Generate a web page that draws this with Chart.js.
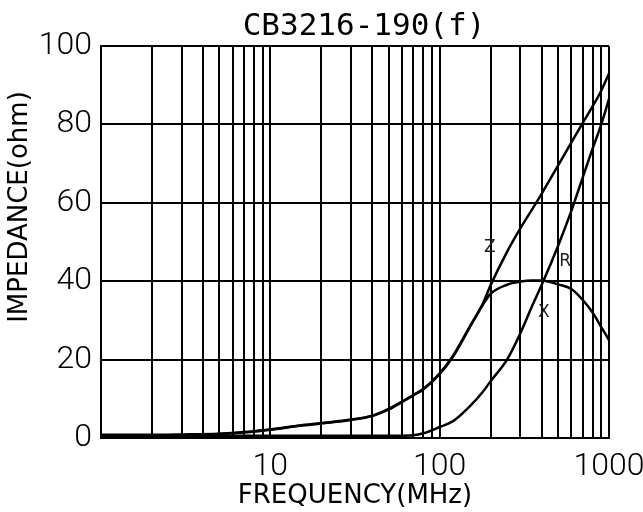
<!DOCTYPE html>
<html>
<head>
<meta charset="utf-8">
<script src="https://cdn.jsdelivr.net/npm/chart.js@4/dist/chart.umd.min.js"></script>
<style>
  html, body { margin: 0; padding: 0; background: #fff; }
  #wrap { width: 643px; height: 512px; }
</style>
</head>
<body>
<div id="wrap"><canvas id="grafico"></canvas></div>
<script>
const titulo = 'CB3216-190(f)'
const tituloX = 'FREQUENCY(MHz)'
const tituloY = 'IMPEDANCE(ohm)'

// frecuencia en MHz, impedancia en ohm
const frecuencias = [1, 2, 3, 5, 7, 10, 15, 20, 30, 40, 50, 60, 70, 80, 100, 120, 150, 180, 200, 250, 300, 350, 400, 500, 600, 700, 800, 900, 1000]
const valoresZ = [0.8, 0.8, 0.9, 1.1, 1.5, 2.2, 3.2, 3.8, 4.7, 5.7, 7.4, 9.3, 11.0, 12.5, 16.5, 21.0, 28.3, 34.3, 39.0, 47.5, 53.5, 58.2, 62.3, 69.5, 75.4, 80.4, 84.6, 88.6, 93.0]
const valoresR = [0.6, 0.6, 0.6, 0.6, 0.6, 0.6, 0.6, 0.6, 0.6, 0.6, 0.6, 0.6, 0.7, 1.2, 2.8, 4.3, 8.0, 11.8, 14.5, 20.0, 26.8, 33.5, 39.0, 49.0, 58.0, 66.5, 73.8, 80.0, 86.5]
const valoresX = [0.6, 0.6, 0.7, 1.0, 1.4, 2.1, 3.1, 3.7, 4.6, 5.6, 7.3, 9.2, 10.9, 12.4, 16.3, 20.8, 28.1, 34.0, 36.8, 39.1, 39.9, 40.2, 40.2, 39.2, 38.0, 35.2, 32.0, 28.3, 25.0]

const ticksX = [1, 2, 3, 4, 5, 6, 7, 8, 9, 10, 20, 30, 40, 50, 60, 70, 80, 90, 100, 200, 300, 400, 500, 600, 700, 800, 900, 1000]
const etiquetasX = [10, 100, 1000]
const ticksY = [0, 20, 40, 60, 80, 100]

const etiquetasCurvas = [
  { texto: 'Z', x: 198, y: 48.7 },
  { texto: 'R', x: 550, y: 45 },
  { texto: 'X', x: 412, y: 32 },
]

const puntos = (valores) => frecuencias.map((f, i) => ({ x: f, y: valores[i] }))

const serie = (label, valores) => ({
  label: label,
  data: puntos(valores),
  borderColor: '#000',
  borderWidth: 2.5,
  pointRadius: 0,
  fill: false,
  cubicInterpolationMode: 'monotone',
})

// textos dibujados a mano: titulo, titulo del eje Y y nombres de las curvas
const textos = {
  id: 'textos',
  afterDraw(chart) {
    const ctx = chart.ctx
    const area = chart.chartArea
    const sx = chart.scales.x
    const sy = chart.scales.y
    ctx.save()
    ctx.fillStyle = '#000'
    ctx.textAlign = 'center'
    ctx.textBaseline = 'middle'

    ctx.font = '31px "DejaVu Sans Mono", monospace'
    ctx.fillText(titulo, (area.left + area.right) / 2 + 9, 27)

    ctx.save()
    ctx.translate(20, 207)
    ctx.rotate(-Math.PI / 2)
    ctx.font = '26px "DejaVu Sans", sans-serif'
    ctx.fillText(tituloY, 0, 0)
    ctx.restore()

    ctx.font = '17px "DejaVu Sans", sans-serif'
    ctx.fillStyle = '#222'
    etiquetasCurvas.forEach(e => {
      ctx.fillText(e.texto, sx.getPixelForValue(e.x), sy.getPixelForValue(e.y))
    })
    ctx.restore()
  }
}

const fuenteTicks = { family: 'Roboto, sans-serif', size: 32, weight: 300, lineHeight: 1 }

const config = {
  type: 'line',
  data: {
    datasets: [
      serie('Z', valoresZ),
      serie('R', valoresR),
      serie('X', valoresX),
    ]
  },
  options: {
    responsive: true,
    maintainAspectRatio: false,
    animation: false,
    layout: {
      padding: { left: 40, top: 46, right: 0, bottom: 3 }
    },
    plugins: {
      legend: { display: false },
      title: { display: false },
      tooltip: { enabled: false },
    },
    scales: {
      x: {
        type: 'logarithmic',
        min: 1,
        max: 1000,
        afterBuildTicks: (scale) => {
          scale.ticks = ticksX.map(v => ({ value: v }))
        },
        afterFit: (scale) => {
          scale.height = 71
          scale.paddingRight = 34
        },
        grid: { color: '#000', lineWidth: 2, drawTicks: false },
        border: { color: '#000', width: 2 },
        ticks: {
          autoSkip: false,
          maxRotation: 0,
          padding: 13,
          color: '#000',
          font: fuenteTicks,
          callback: (v) => etiquetasX.includes(v) ? String(v) : '',
        },
        title: {
          display: true,
          text: tituloX,
          color: '#000',
          font: { family: '"DejaVu Sans", sans-serif', size: 26, lineHeight: 1 },
          padding: { top: 0, bottom: 0 },
        },
      },
      y: {
        min: 0,
        max: 100,
        afterBuildTicks: (scale) => {
          scale.ticks = ticksY.map(v => ({ value: v }))
        },
        afterFit: (scale) => {
          scale.width = 61
        },
        grid: { color: '#000', lineWidth: 2, drawTicks: false },
        border: { color: '#000', width: 2 },
        ticks: {
          padding: 9,
          color: '#000',
          font: fuenteTicks,
        },
      },
    },
  },
  plugins: [textos],
}

const myChart = new Chart(document.getElementById('grafico'), config)
</script>
</body>
</html>
